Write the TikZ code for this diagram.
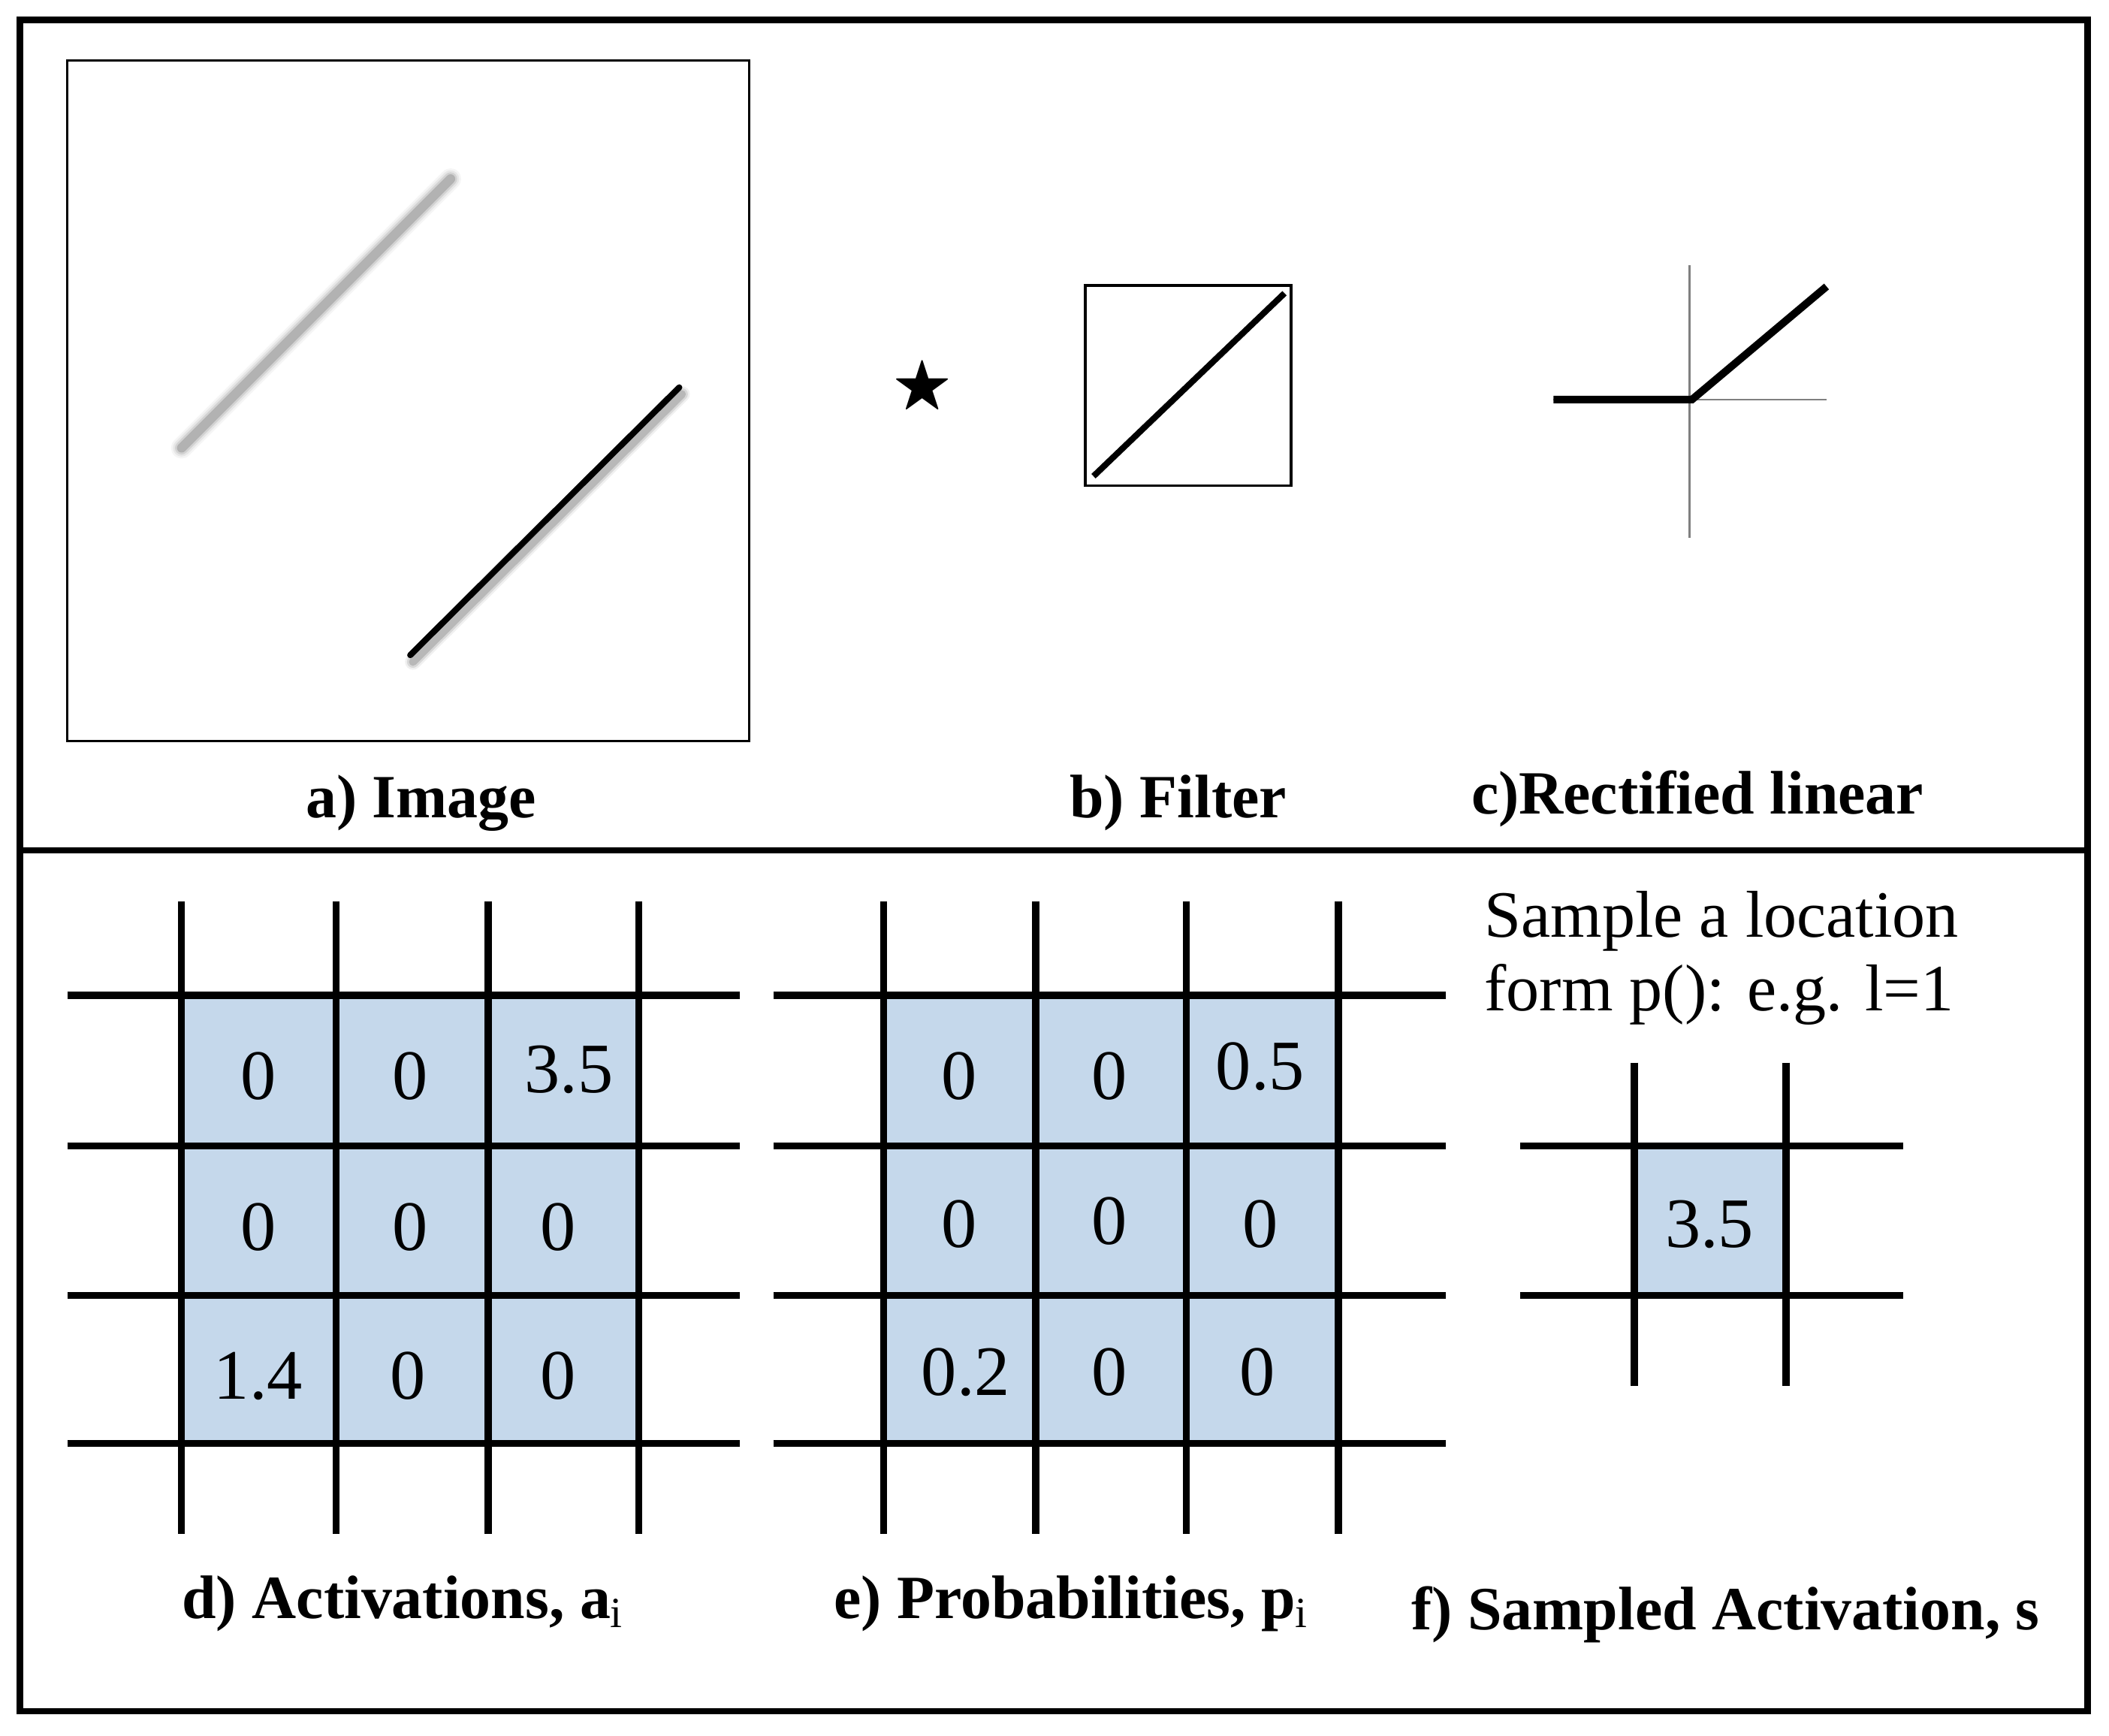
\documentclass[tikz,border=0pt]{standalone}
\usepackage{fontspec}
\usepackage{amssymb}
\setmainfont{Liberation Serif}
\begin{document}
\begin{tikzpicture}[x=0.1mm,y=-0.1mm,
  lab/.style={font=\fontsize{13pt}{15pt}\selectfont\bfseries},
  num/.style={font=\fontsize{15pt}{17pt}\selectfont},
  grid/.style={line width=1.5pt,black},
  cellfill/.style={fill={rgb,255:red,197;green,216;blue,235}}]
\useasboundingbox (0,0) rectangle (1568,1290);
\draw[line width=1.4pt] (15,15) rectangle (1552,1272);
\draw[line width=1.2pt] (15,632) -- (1552,632);
% a) image
\draw[line width=0.5pt] (50,45) rectangle (557,551);
\foreach \w/\o in {16/0.08,13/0.12,10/0.2,7/0.4}{
  \draw[line width=\w*0.28pt,line cap=round,gray,opacity=\o] (135,333) -- (335,133);}
\draw[line width=1.6pt,line cap=round,gray!60] (135,333) -- (335,133);
\foreach \w/\o in {12/0.06,9/0.1,6/0.15}{
  \draw[line width=\w*0.28pt,line cap=round,black,opacity=\o] (307,492) -- (507,293);}
\draw[line width=1.3pt,line cap=round] (305,487) -- (505,288);
\node[lab] (la) at (313,597) {a) Image};
% star
\node[font=\fontsize{13pt}{15pt}\selectfont] (star) at (686,288) {$\bigstar$};
% b) filter
\draw[line width=0.6pt] (807,212) rectangle (960,361);
\draw[line width=1.3pt] (813,354) -- (955,218);
\node[lab] (lb) at (876,597) {b) Filter};
% c) relu
\draw[gray,line width=0.4pt] (1256,197) -- (1256,400);
\draw[gray,line width=0.4pt] (1155,297) -- (1358,297);
\draw[line width=1.6pt] (1155,297) -- (1258,297) -- (1358,213);
\node[lab] (lc) at (1262,594) {c)Rectified linear};
% d) grid
\fill[cellfill] (135,740) rectangle (475,1073);
\foreach \x in {135,250,363,475}{\draw[grid] (\x,670) -- (\x,1140);}
\foreach \y in {740,852,963,1073}{\draw[grid] (50,\y) -- (550,\y);}
\node[num] (d11) at (192,800) {0};
\node[num] (d12) at (305,800) {0};
\node[num] (d13) at (423,795) {3.5};
\node[num] (d21) at (192,912) {0};
\node[num] (d22) at (305,912) {0};
\node[num] (d23) at (415,912) {0};
\node[num] (d31) at (192,1023) {1.4};
\node[num] (d32) at (303,1023) {0};
\node[num] (d33) at (415,1023) {0};
\node[lab] (ld) at (300,1192) {d) Activations, a$_\mathrm{i}$};
% e) grid
\fill[cellfill] (657,740) rectangle (995,1073);
\foreach \x in {657,770,882,995}{\draw[grid] (\x,670) -- (\x,1140);}
\foreach \y in {740,852,963,1073}{\draw[grid] (575,\y) -- (1075,\y);}
\node[num] (e11) at (713,800) {0};
\node[num] (e12) at (825,800) {0};
\node[num] (e13) at (937,793) {0.5};
\node[num] (e21) at (713,910) {0};
\node[num] (e22) at (825,908) {0};
\node[num] (e23) at (937,910) {0};
\node[num] (e31) at (718,1020) {0.2};
\node[num] (e32) at (825,1020) {0};
\node[num] (e33) at (935,1020) {0};
\node[lab] (le) at (797,1192) {e) Probabilities, p$_\mathrm{i}$};
% f)
\node[font=\fontsize{14pt}{15.5pt}\selectfont,anchor=north west,align=left,inner sep=0pt] (ft) at (1103,662) {Sample a location\\form p(): e.g. l=1};
\fill[cellfill] (1215,852) rectangle (1328,963);
\foreach \x in {1215,1328}{\draw[grid] (\x,790) -- (\x,1030);}
\foreach \y in {852,963}{\draw[grid] (1130,\y) -- (1415,\y);}
\node[num] (f11) at (1271,910) {3.5};
\node[lab] (lf) at (1283,1200) {f) Sampled Activation, s};
\end{tikzpicture}
\end{document}
